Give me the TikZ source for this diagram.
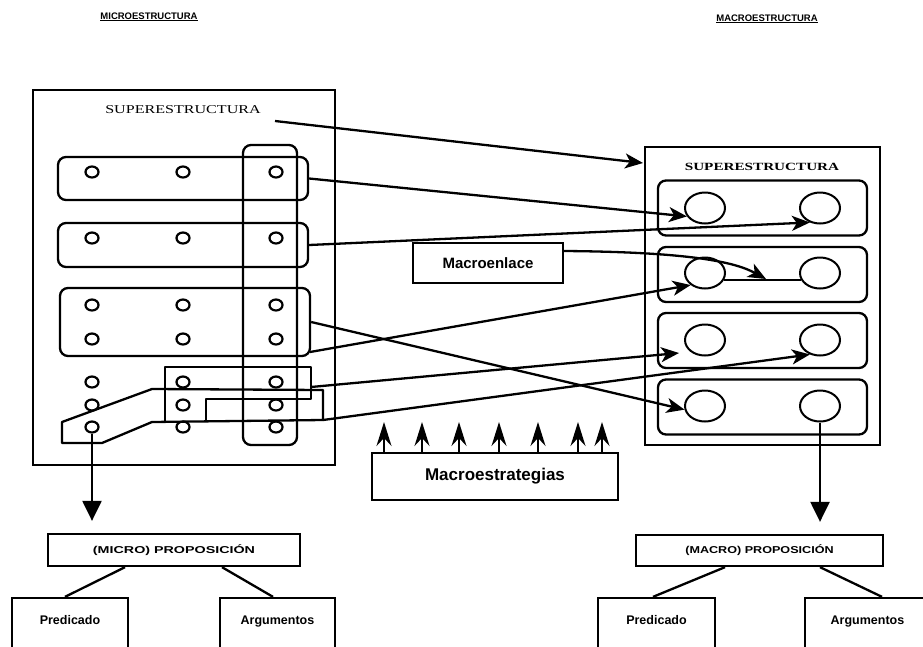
\documentclass[tikz,border=0pt]{standalone}
\usepackage{fontspec}
\usepackage{graphicx}
\setmainfont{Liberation Serif}
\setsansfont{Liberation Sans}
\usetikzlibrary{arrows.meta,shapes.geometric,calc}
\tikzset{
  box/.style={draw, line width=2.3pt, inner sep=0pt},
  rbox/.style={box, rounded corners=8pt},
  dot/.style={draw, ellipse, line width=2.2pt, minimum width=13pt, minimum height=11pt, inner sep=0pt},
  bigdot/.style={draw, ellipse, line width=2pt, minimum width=40pt, minimum height=31pt, inner sep=0pt},
  ln/.style={line width=2.3pt},
  link/.style={line width=2.3pt, -{Stealth[length=18pt,width=15pt,inset=5pt]}},
  upar/.style={line width=1.8pt, -{Stealth[length=24pt,width=15pt,inset=8pt]}},
  downar/.style={line width=2.3pt, -{Triangle[length=20pt,width=19pt]}},
  ttl/.style={font=\sffamily\bfseries\fontsize{9.5}{10}\selectfont, inner sep=0pt},
  bbox/.style={box, minimum height=60pt, text height=8pt, text depth=16pt,
    font=\sffamily\bfseries\fontsize{12.5}{14}\selectfont},
  prop/.style={box, font=\sffamily\bfseries\fontsize{10}{11}\selectfont}
}
\begin{document}
\begin{tikzpicture}[x=1pt,y=-1pt]
\useasboundingbox (0,0) rectangle (923,646);
\clip (0,0) rectangle (923,646);
% titles
\node[ttl, anchor=base] (t1) at (149,19) {\underline{MICROESTRUCTURA}};
\node[ttl, anchor=base] (t2) at (767,21) {\underline{MACROESTRUCTURA}};
% left panel
\node[box, minimum width=302pt, minimum height=375pt] (Lbox) at (184,277.5) {};
\node[font=\fontsize{12}{14}\selectfont] (lsup) at (183,110) {\scalebox{1.34}[1]{SUPERESTRUCTURA}};
\node[rbox, minimum width=250pt, minimum height=43pt] (r1) at (183,178.5) {};
\node[rbox, minimum width=250pt, minimum height=44pt] (r2) at (183,245) {};
\node[rbox, minimum width=250pt, minimum height=68pt] (r3) at (185,322) {};
\node[rbox, minimum width=54pt, minimum height=300pt] (vc) at (270,295) {};
\foreach \y/\n in {172/a,238/b,305/c,339/d,382/e,405/f,427/g}
  \foreach \x/\m in {92/1,183/2,276/3}
    \node[dot] (d\n\m) at (\x,\y) {};
\draw[ln, line join=round] (62,422) -- (152,389) -- (323,390) -- (323,420) -- (152,422) -- (102,443) -- (62,443) -- cycle;
\draw[ln, line join=round] (165,422) -- (165,367) -- (311,367) -- (311,399) -- (206,399) -- (206,422);
% right panel
\node[box, minimum width=235pt, minimum height=298pt] (Rbox) at (762.5,296) {};
\node[font=\bfseries\fontsize{11}{13}\selectfont] (rsup) at (762,167) {\scalebox{1.38}[1]{SUPERESTRUCTURA}};
\foreach \y/\n in {208/1,274.5/2,340.5/3,407/4}
  \node[rbox, minimum width=209pt, minimum height=55pt] (R\n) at (762.5,\y) {};
\foreach \y/\n in {208/1,273/2,340/3,406/4}{
  \node[bigdot] (ca\n) at (705,\y) {};
  \node[bigdot] (cb\n) at (820,\y) {};
}
\draw[ln] (ca2.-20) -- (cb2.200);
% macroenlace
\node[box, minimum width=150pt, minimum height=40pt, font=\sffamily\bfseries\fontsize{15}{17}\selectfont] (menl) at (488,263) {Macroenlace};
\coordinate (enl) at (766,279);
\draw[link] (menl.east |- 0,251) .. controls (690,252) and (735,262) .. (enl);
% macroestrategias
\node[box, minimum width=246pt, minimum height=47pt, font=\sffamily\bfseries\fontsize{17}{20}\selectfont] (mest) at (495,476.5) {Macroestrategias};
\foreach \x in {384,422,459,499,538,578,602}
  \draw[upar] (mest.north -| \x,0) -- (\x,422);
% links
\coordinate (s0) at (275,121);
\coordinate (t0) at (643,163);
\coordinate (r3l) at (310,352);
\coordinate (rs) at (311,387);
\coordinate (t3) at (679,353);
\coordinate (ps) at (323,420);
\draw[link] (s0) -- (t0);
\draw[link] (r1.east) -- (ca1.205);
\draw[link] (r2.east) -- (cb1.235);
\draw[link] (r3.east) -- (ca4.190);
\draw[link] (r3l) -- (ca2.220);
\draw[link] (rs) -- (t3);
\draw[link] (ps) -- (cb3.235);
% propositions
\node[prop, minimum width=252pt, minimum height=32pt] (mip) at (174,550) {\scalebox{1.43}[1]{(MICRO) PROPOSICIÓN}};
\node[prop, minimum width=247pt, minimum height=31pt] (map) at (759.5,550.5) {\scalebox{1.26}[1]{(MACRO) PROPOSICIÓN}};
\draw[downar, shorten >=12pt] (dg1.south) -- (dg1.south |- mip.north);
\draw[downar, shorten >=12pt] (cb4.south) -- (cb4.south |- map.north);
\node[bbox, minimum width=116pt] (pl) at (70,628) {Predicado};
\node[bbox, minimum width=115pt] (al) at (277.5,628) {Argumentos};
\node[bbox, minimum width=117pt] (pr) at (656.5,628) {Predicado};
\node[bbox, minimum width=125pt] (ar) at (867.5,628) {Argumentos};
\draw[ln] (mip.south -| 125,0) -- (pl.north -| 65,0);
\draw[ln] (mip.south -| 222,0) -- (al.north -| 273,0);
\draw[ln] (map.south -| 725,0) -- (pr.north -| 653,0);
\draw[ln] (map.south -| 820,0) -- (ar.north -| 882,0);
\end{tikzpicture}
\end{document}
